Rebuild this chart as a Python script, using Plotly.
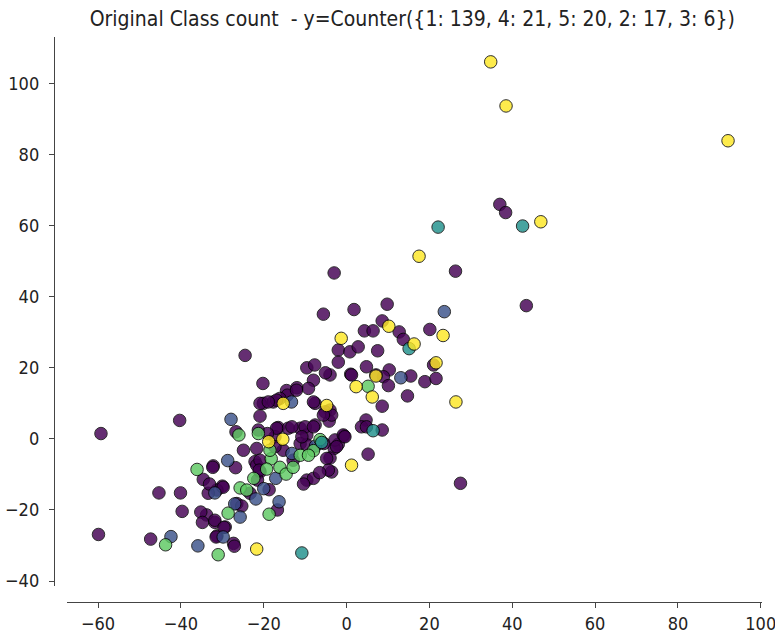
import plotly.graph_objects as go

# class 1 (purple)
c1_x = [37.0, 38.4, 26.3, -3.0, 43.4, 1.8, 9.8, -5.6, 8.6, 4.3, 6.4, 12.7, 20.1, 13.7, -2.0, 0.8, 2.8, 7.5,
        -2.0, 21.0, 4.8, 1.0, 10.3, 8.9, 15.5, 18.9, 21.6, 10.1, -4.0, 14.7, 8.6, 4.7, 3.6, 8.6, -0.6, -2.0,
        -3.0, 5.2, -4.0, -3.6, 27.5, -4.0, -4.2, -24.5, -9.6, -7.7, -5.1, -8.0, -20.2, -12.0, -14.5, -9.2,
        -14.3, -20.1, -17.7, -16.1, -7.6, -5.2, -3.6, -20.9, -16.5, -14.1, -26.7, -17.3, -11.2, -9.6, -7.6,
        -11.2, -9.6, -5.5, -2.8, -0.8, -2.4, -4.8, -15.3, -17.3, -12.9, -24.9, -32.2, -26.8, -22.1, -20.9,
        -21.5, -18.7, -9.6, -8.0, -10.4, -30.0, -31.3, -33.4, -26.5, -25.3, -16.7, -33.8, -31.8, -29.3,
        -31.3, -27.3, -4.4, -59.3, -40.3, -45.3, -40.1, -39.7, -35.2, -34.8, -59.9, -47.3, -27.1, -34.6,
        -33.1, -21.7, -23.3, -21.7, -16.9, -12.1, -8.0, -5.6, 4.8, -16.9, -13.2, -10.0, -8.0, -10.8, -0.4,
        -20.9, -18.9, -21.3, -19.1, -20.9, -21.1, -32.3, -29.8, -31.5, -31.8, -29.6, 1.2, 7.1, -6.5]
c1_y = [66.0, 63.7, 47.2, 46.7, 37.5, 36.4, 37.9, 35.1, 33.2, 30.4, 30.4, 30.1, 30.8, 28.0, 25.0, 24.5, 25.9, 24.8,
        21.6, 20.8, 20.3, 18.2, 19.4, 17.5, 17.7, 16.1, 17.0, 15.0, 18.0, 12.1, 9.2, 5.3, 3.4, 2.5, 0.8, -1.5,
        -2.7, -4.3, -5.4, -9.3, -12.5, 8.1, 5.0, 23.5, 20.0, 20.8, 18.6, 16.5, 15.6, 14.4, 13.6, 14.2,
        12.3, 10.0, 10.4, 11.4, 10.0, 7.6, 6.7, 6.4, 3.2, 3.0, 2.0, 0.6, 3.0, 1.1, 3.9,
        -1.3, -1.7, -1.3, -0.3, 1.1, -2.2, -5.5, -3.2, -2.2, -6.0, -3.2, -7.6, -8.1, -6.4, -9.3,
        -11.6, -14.3, -11.6, -11.1, -12.7, -13.3, -14.4, -15.3, -18.2, -18.9, -20.0, -21.4, -23.5, -24.8,
        -27.3, -29.4, -8.8, 1.5, 5.2, -15.2, -15.2, -20.4, -20.6, -23.5, -26.9, -28.2, -30.2, -11.4,
        -12.7, -7.4, -15.3, -2.7, 10.9, 13.7, 10.4, 6.7, 3.4, 3.0, 3.4, 3.4, 3.4, 0.6, 0.6,
        10.0, 10.4, 2.5, 1.5, -6.0, -8.8, -8.0, -13.6, -27.6, -22.9, -24.9, 18.0, 18.0, -9.5]

# class 2 (blue)
c2_x = [23.6, 13.1, -13.3, -27.9, -28.7, -13.2, -17.1, -31.8, -21.9, -27.0, -16.3, -25.7, -29.8, -42.4, -35.9,
        -7.5, -20.0]
c2_y = [35.8, 17.2, 10.4, 5.5, -6.1, -4.1, -11.1, -15.2, -16.9, -18.3, -17.7, -22.0, -27.6, -27.5, -30.1,
        -2.0, -14.0]

# class 3 (teal)
c3_x = [22.1, 42.5, 15.1, 6.4, -10.8, -6.0]
c3_y = [59.6, 59.9, 25.4, 2.3, -32.1, -1.0]

# class 4 (green)
c4_x = [5.2, -26.0, -21.3, -6.4, -8.0, -11.2, -9.2, -18.2, -16.1, -19.3, -14.6, -12.9, -22.4, -25.7, -24.1,
        -28.6, -18.7, -31.0, -43.7, -36.1, -18.5]
c4_y = [14.8, 1.1, 1.5, -0.2, -3.3, -4.6, -4.6, -5.6, -8.0, -8.5, -9.9, -8.0, -11.1, -13.8, -14.4,
        -20.9, -21.2, -32.6, -29.8, -8.6, -3.2]

# class 5 (yellow)
c5_x = [34.8, 38.5, 92.1, 46.9, 17.5, 10.2, 23.3, 16.3, -1.3, 21.6, 7.1, 2.3, 6.2, 26.4, 1.2, -15.3, -4.8,
        -18.8, -15.4, -21.7]
c5_y = [106.1, 93.7, 83.9, 61.1, 51.4, 31.7, 29.1, 26.7, 28.3, 21.4, 17.7, 14.7, 11.8, 10.4, -7.4, 10.0, 9.4,
        -0.8, -0.1, -31.0]

series = [
    ("1", c1_x, c1_y, "#440154"),
    ("2", c2_x, c2_y, "#3b528b"),
    ("4", c4_x, c4_y, "#5ec962"),
    ("3", c3_x, c3_y, "#21918c"),
    ("5", c5_x, c5_y, "#fde725"),
]

x_ticks = [-60, -40, -20, 0, 20, 40, 60, 80, 100]
y_ticks = [-40, -20, 0, 20, 40, 60, 80, 100]

title_text = "Original Class count  - y=Counter({1: 139, 4: 21, 5: 20, 2: 17, 3: 6})"

fig = go.Figure()
for name, xs, ys, col in series:
    fig.add_trace(go.Scatter(
        x=xs, y=ys, mode="markers", name=name,
        marker=dict(size=12.5, color=col, opacity=0.82,
                    line=dict(color="black", width=1)),
        showlegend=False,
    ))

font_fam = "DejaVu Sans Condensed, DejaVu Sans, sans-serif"

fig.update_layout(
    width=775, height=638,
    margin=dict(l=40, r=5, t=30, b=30, autoexpand=False),
    paper_bgcolor="white", plot_bgcolor="white",
    font=dict(family=font_fam, size=18, color="#222"),
    title=dict(text=title_text, x=0.532, xref="container", xanchor="center",
               y=1 - 19 / 638, yref="container", yanchor="middle",
               font=dict(family=font_fam, size=21, color="#222")),
    xaxis=dict(domain=[0.03699, 0.98904], range=[-67.5, 100.3], anchor="free", position=0.01038,
               tickvals=x_ticks, ticks="outside", ticklen=5, tickwidth=1.2, tickcolor="#444",
               showline=True, linecolor="#444", linewidth=1.4, showgrid=False, zeroline=False,
               automargin=False, ticklabeloverflow="allow", tickfont=dict(size=18)),
    yaxis=dict(domain=[0.03806, 0.98789], range=[-41.4, 113.1], anchor="free", position=0.01918,
               tickvals=y_ticks, ticks="outside", ticklen=5, tickwidth=1.2, tickcolor="#444",
               showline=True, linecolor="#444", linewidth=1.4, showgrid=False, zeroline=False,
               automargin=False, ticklabeloverflow="allow", ticklabelstandoff=6, tickfont=dict(size=18)),
)

fig.write_html("out.html")
